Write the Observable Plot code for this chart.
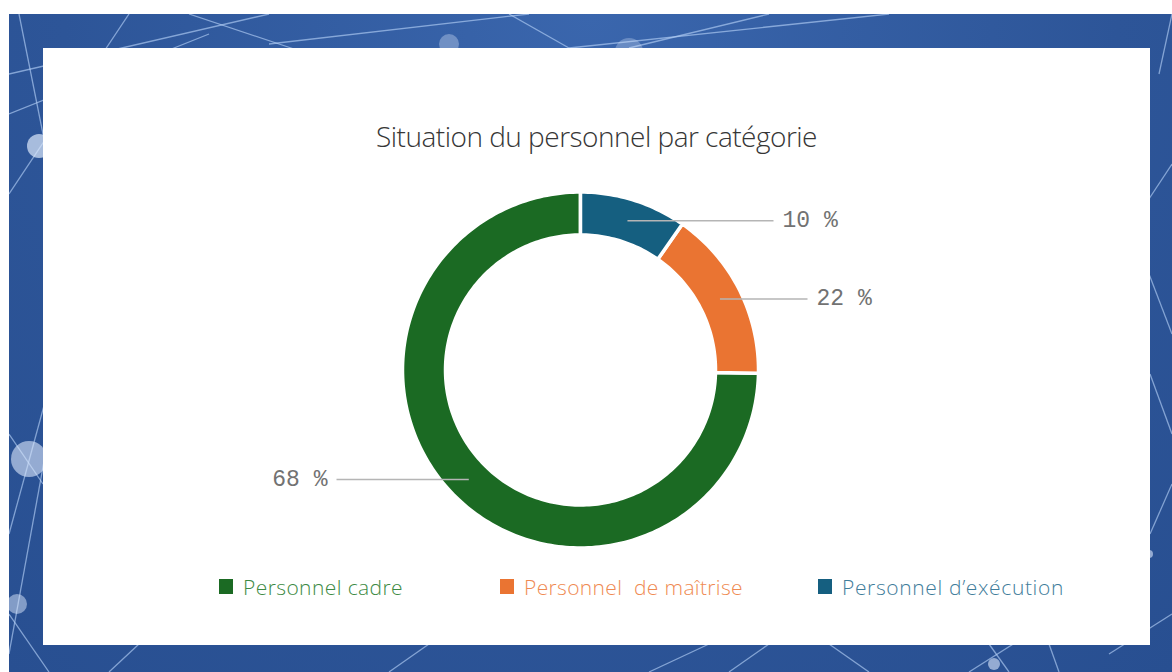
<!DOCTYPE html>
<html><head><meta charset="utf-8">
<script src="https://cdn.jsdelivr.net/npm/d3@7"></script>
<script src="https://cdn.jsdelivr.net/npm/@observablehq/plot@0.6"></script>
<style>
html,body{margin:0;padding:0;width:1172px;height:672px;overflow:hidden;background:#fff;}
#bg{position:absolute;left:9px;top:14px;width:1163px;height:658px;overflow:hidden;
  background:radial-gradient(circle at 50% 0%, #3a66ad 0%, #2d5598 60%, #284f91 100%);}
#bg svg{position:absolute;left:0;top:0}
#panel{position:absolute;left:43px;top:48px;width:1107px;height:597px;background:#fff;}
#title{position:absolute;left:0;top:69px;width:1107px;text-align:center;white-space:pre;
  font-family:"Open Sans",sans-serif;font-weight:300;font-size:28px;color:#363636;line-height:normal;}
#chart{position:absolute;left:0;top:127px;}
.item{position:absolute;top:531px;height:16px;}
.sw{position:absolute;left:0;top:0;width:14px;height:15px;}
.lab{position:absolute;left:24px;top:-6px;white-space:pre;font-family:"Open Sans",sans-serif;font-weight:300;font-size:21px;line-height:normal;}
</style></head>
<body>
<div id="bg"></div>
<div id="panel"><div id="title"><span>Situation du personnel par catégorie</span></div><div id="chart"></div><div id="legend"></div></div>
<script>
// ---- data ----
const categories = ["Personnel cadre", "Personnel  de maîtrise", "Personnel d’exécution"];
const shares = [74.7, 15.6, 9.7];          // arc share of the ring as drawn (%)
const labels = ["68 %", "22 %", "10 %"];   // printed labels
const colors = ["#1b6a23", "#ea7432", "#155f80"];
const textColors = ["#3d8a44", "#ef8a52", "#3f7d9b"];

// ---- background decoration ----
(function(){
  const w = 1163, h = 658;
  const svg = d3.select("#bg").append("svg").attr("width", w).attr("height", h);
  const segs = [[0,180,120,0],[0,60,260,0],[10,0,90,400],[0,520,60,300],[0,640,40,420],[0,420,34,470],
    [500,0,560,34],[560,34,880,0],[620,34,760,0],[180,0,300,40],[0,100,200,20],[260,30,520,0],
    [1130,200,1163,150],[1140,260,1163,320],[1141,360,1163,420],[1141,520,1163,470],[1150,60,1163,0],
    [640,658,700,630],[720,658,760,630],[860,658,820,630],[960,658,1020,620],[1000,658,980,630],[1100,640,1163,600],
    [100,658,130,630],[40,658,0,600],[380,658,420,630],[1050,658,1040,630]];
  svg.selectAll("line").data(segs).join("line")
    .attr("x1",d=>d[0]).attr("y1",d=>d[1]).attr("x2",d=>d[2]).attr("y2",d=>d[3])
    .attr("stroke","#b4cff6").attr("stroke-opacity",0.65).attr("stroke-width",1.3);
  const dots = [[62,64,3,0.9],[30,132,12,0.7],[20,445,18,0.6],[8,590,10,0.5],[440,30,10,0.35],[620,38,14,0.3],[1140,540,4,0.6],[985,650,6,0.6]];
  svg.selectAll("circle").data(dots).join("circle")
    .attr("cx",d=>d[0]).attr("cy",d=>d[1]).attr("r",d=>d[2]).attr("fill","#dce8fb").attr("fill-opacity",d=>d[3]);
})();

// ---- donut geometry (unit = outer radius) ----
const k = 176.5;                 // px per unit
const W = 1107, H = 390, cx = 537, cy = 194.5;
const rOut = (176.5 + 1.5) / k, rIn = (136.5 - 1.5) / k, rMid = 156.5 / k;
const ring = [], leaders = [];
let start = 0;
categories.forEach((cat, i) => {
  const a0 = start, a1 = start - shares[i] / 100 * 2 * Math.PI;  // counter-clockwise from 12 o'clock
  const n = Math.max(8, Math.round(shares[i] * 3));
  for (let j = 0; j <= n; j++) { const a = a0 + (a1 - a0) * j / n; ring.push({cat, x: rOut * Math.sin(a), y: rOut * Math.cos(a)}); }
  for (let j = n; j >= 0; j--) { const a = a0 + (a1 - a0) * j / n; ring.push({cat, x: rIn * Math.sin(a), y: rIn * Math.cos(a)}); }
  const m = (a0 + a1) / 2;
  leaders.push({cat, label: labels[i], x1: rMid * Math.sin(m), y: rMid * Math.cos(m), right: Math.sin(m) > 0});
  start = a1;
});
// leader lengths (layout)
const leaderEnd = {"Personnel cadre": -244 / k, "Personnel  de maîtrise": 227 / k, "Personnel d’exécution": 193 / k};
leaders.forEach(d => d.x2 = leaderEnd[d.cat]);

const chart = Plot.plot({
  width: W, height: H, margin: 0,
  style: {background: "transparent", overflow: "visible"},
  x: {domain: [-cx / k, (W - cx) / k], axis: null},
  y: {domain: [-(H - cy) / k, cy / k], axis: null},
  color: {domain: categories, range: colors},
  marks: [
    Plot.line(ring, {x: "x", y: "y", z: "cat", fill: "cat", stroke: "white", strokeWidth: 3.5, curve: "linear-closed"}),
    Plot.link(leaders, {x1: "x1", y1: "y", x2: "x2", y2: "y", stroke: "#b5b5b5", strokeWidth: 1.5}),
    Plot.text(leaders.filter(d => d.right), {x: "x2", y: "y", text: "label", dx: 9, dy: -1, textAnchor: "start",
      fontFamily: "Liberation Mono, monospace", fontSize: 23, fill: "#727272"}),
    Plot.text(leaders.filter(d => !d.right), {x: "x2", y: "y", text: "label", dx: -9, dy: -1, textAnchor: "end",
      fontFamily: "Liberation Mono, monospace", fontSize: 23, fill: "#727272"})
  ]
});
document.getElementById("chart").appendChild(chart);

// ---- legend ----
const legendLeft = [176, 457, 775];
const legendWidth = [160, 219, 222];
const leg = d3.select("#legend");
categories.forEach((cat, i) => {
  const it = leg.append("div").attr("class", "item").style("left", legendLeft[i] + "px");
  it.append("div").attr("class", "sw").style("background", colors[i]);
  const t = it.append("span").attr("class", "lab").style("color", textColors[i]).text(cat);
  const el = t.node(); const w = el.getBoundingClientRect().width;
  el.style.letterSpacing = ((legendWidth[i] - w) / cat.length) + "px";
});
// fit title width
(function(){
  const s = document.querySelector("#title span"); const w = s.getBoundingClientRect().width;
  s.style.letterSpacing = ((441 - w) / s.textContent.length) + "px";
})();
</script>
</body></html>
